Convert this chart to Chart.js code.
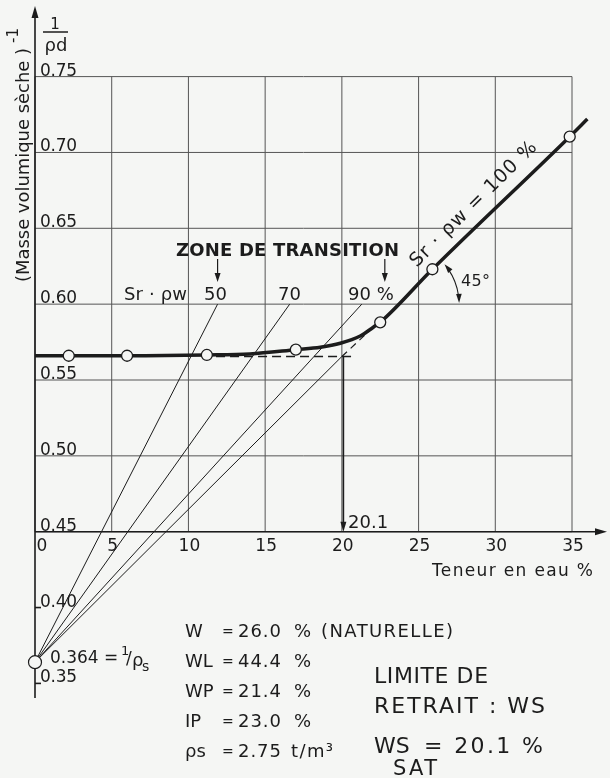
<!DOCTYPE html>
<html>
<head>
<meta charset="utf-8">
<script src="https://cdn.jsdelivr.net/npm/chart.js@4.4.0/dist/chart.umd.min.js"></script>
<style>
  html, body { margin: 0; padding: 0; background: #f5f6f4; }
  canvas { display: block; }
</style>
</head>
<body>
<canvas id="chart" width="610" height="778"></canvas>
<script>
// water content w (%) and 1/rho_d
const curveW = [0, 2.2, 6.0, 11.2, 14.0, 17.0, 18.6, 19.9, 21.2, 22.05, 22.5, 25.9, 34.85, 36.0];
const curveV = [0.566, 0.566, 0.566, 0.5665, 0.5672, 0.570, 0.5716, 0.5742, 0.579, 0.5848, 0.588, 0.623, 0.7104, 0.722];
const pointW = [2.2, 6.0, 11.2, 17.0, 22.5, 25.9, 34.85];
const pointV = [0.566, 0.566, 0.5665, 0.570, 0.588, 0.623, 0.7104];

const invRhoS = 0.364;
const srLabels = ['50', '70', '90 %'];
const srTopW = [11.9, 16.6, 21.3];
const srTopV = 0.60;
const satW = [0, 20.0];
const satV = [0.364, 0.5655];
const satDashW = [20.0, 22.2];
const satDashV = [0.5655, 0.5862];
const shrinkW = [11.8, 20.6];
const shrinkV = 0.5655;
const wsSat = 20.1;

const xTicks = [0, 5, 10, 15, 20, 25, 30, 35];
const yTicks = [0.45, 0.50, 0.55, 0.60, 0.65, 0.70, 0.75];
const yLowTicks = [0.40, 0.35];

const paramNames = ['W', 'WL', 'WP', 'IP', 'ρs'];
const paramValues = ['26.0', '44.4', '21.4', '23.0', '2.75'];
const paramUnits = ['%', '%', '%', '%', 't/m³'];

const INK = '#1c1c1c';
const BG = '#f5f6f4';
const FONT = '"DejaVu Sans", sans-serif';

const pts = (ws, vs) => ws.map((w, i) => ({ x: w, y: Array.isArray(vs) ? vs[i] : vs }));
const thin = (data, extra) => Object.assign({
  data, showLine: true, borderColor: INK, borderWidth: 1, pointRadius: 0, order: 3
}, extra || {});

// text stretched to a width
function fitText(ctx, str, x, y, width, font) {
  ctx.font = font;
  ctx.letterSpacing = '0px';
  if (width) {
    const w = ctx.measureText(str).width;
    const sp = (width - w) / Math.max(1, str.length - 1);
    ctx.letterSpacing = sp.toFixed(2) + 'px';
  }
  ctx.fillText(str, x, y);
  ctx.letterSpacing = '0px';
}

function arrowHead(ctx, x, y, ang, len, half) {
  ctx.beginPath();
  ctx.moveTo(x, y);
  ctx.lineTo(x - len * Math.cos(ang) + half * Math.sin(ang), y - len * Math.sin(ang) - half * Math.cos(ang));
  ctx.lineTo(x - len * Math.cos(ang) - half * Math.sin(ang), y - len * Math.sin(ang) + half * Math.cos(ang));
  ctx.closePath();
  ctx.fill();
}

function seg(ctx, x1, y1, x2, y2) {
  ctx.beginPath();
  ctx.moveTo(x1, y1);
  ctx.lineTo(x2, y2);
  ctx.stroke();
}

const sketch = {
  id: 'sketch',
  beforeDatasetsDraw(chart) {
    const ctx = chart.ctx;
    const X = v => chart.scales.x.getPixelForValue(v);
    const Y = v => chart.scales.y.getPixelForValue(v);
    ctx.save();
    ctx.fillStyle = BG;
    ctx.fillRect(0, 0, chart.width, chart.height);
    // grid
    ctx.strokeStyle = '#555';
    ctx.lineWidth = 1;
    xTicks.forEach(t => seg(ctx, X(t), Y(0.45), X(t), Y(0.75)));
    yTicks.forEach(t => seg(ctx, X(0), Y(t), X(35), Y(t)));
    // axes
    ctx.strokeStyle = INK;
    ctx.fillStyle = INK;
    ctx.lineWidth = 1.6;
    seg(ctx, X(0), Y(0.3403), X(0), Y(0.7966) + 6);
    arrowHead(ctx, X(0), Y(0.7966), -Math.PI / 2, 12, 3.5);
    seg(ctx, X(0), Y(0.45), X(37.28) - 6, Y(0.45));
    arrowHead(ctx, X(37.28), Y(0.45), 0, 12, 3.5);
    yLowTicks.forEach(t => seg(ctx, X(0), Y(t), X(0) + 6, Y(t)));
    ctx.restore();
  },
  afterDatasetsDraw(chart) {
    const ctx = chart.ctx;
    const X = v => chart.scales.x.getPixelForValue(v);
    const Y = v => chart.scales.y.getPixelForValue(v);
    ctx.save();
    ctx.fillStyle = INK;
    ctx.strokeStyle = INK;

    // tick labels
    ctx.textAlign = 'left';
    ctx.textBaseline = 'alphabetic';
    yTicks.concat(yLowTicks).forEach(t => fitText(ctx, t.toFixed(2), X(0) + 5, Y(t) - 1, 37, '17px ' + FONT));
    ctx.textAlign = 'center';
    xTicks.forEach(t => fitText(ctx, String(t), X(t) + (t === 0 ? 7 : 1), 551, 0, '17px ' + FONT));
    ctx.textAlign = 'left';
    fitText(ctx, 'Teneur en eau %', 432, 576, 161, '17px ' + FONT);

    // y title
    ctx.save();
    ctx.translate(29, 282);
    ctx.rotate(-Math.PI / 2);
    fitText(ctx, '(Masse volumique sèche )', 0, 0, 234, '18px ' + FONT);
    fitText(ctx, '-1', 239, -11, 0, '15px ' + FONT);
    ctx.restore();

    // 1 / rho_d
    ctx.textAlign = 'center';
    fitText(ctx, '1', 55, 29, 0, '15px ' + FONT);
    ctx.lineWidth = 1.5;
    seg(ctx, 43, 32, 68, 32);
    fitText(ctx, 'ρd', 56, 51, 0, '18px ' + FONT);

    // ws arrow
    arrowHead(ctx, X(wsSat), Y(0.45), Math.PI / 2, 10, 3);
    ctx.textAlign = 'left';
    fitText(ctx, String(wsSat), 348, 528, 0, '18px ' + FONT);

    // transition zone
    fitText(ctx, 'ZONE DE TRANSITION', 176, 256, 223, 'bold 18px ' + FONT);
    ctx.lineWidth = 1.2;
    [11.9, 22.8].forEach(w => {
      seg(ctx, X(w), 259, X(w), 274);
      arrowHead(ctx, X(w), 282, Math.PI / 2, 9, 3);
    });
    fitText(ctx, 'Sr · ρw', 124, 300, 63, '18px ' + FONT);
    const lblX = [204, 278, 348];
    srLabels.forEach((s, i) => fitText(ctx, s, lblX[i], 300, 0, '18px ' + FONT));

    // saturation line label
    const ang = Math.atan2(Y(0.722) - Y(invRhoS), X(35.8) - X(0));
    const w0 = 29.4, v0 = invRhoS + (0.722 - invRhoS) * w0 / 35.8;
    const px = X(w0) + 17 * Math.sin(ang), py = Y(v0) - 17 * Math.cos(ang);
    ctx.save();
    ctx.translate(px, py);
    ctx.rotate(ang);
    ctx.textAlign = 'center';
    ctx.textBaseline = 'middle';
    fitText(ctx, 'Sr · ρw = 100 %', 0, 0, 170, '19px ' + FONT);
    ctx.restore();

    // 45 degree arc
    const cx = X(23.6), cy = Y(0.60), r = 62;
    const a1 = -0.70, a2 = -0.02;
    ctx.lineWidth = 1.1;
    ctx.beginPath();
    ctx.arc(cx, cy, r, a1 + 0.1, a2 - 0.12);
    ctx.stroke();
    arrowHead(ctx, cx + r * Math.cos(a1), cy + r * Math.sin(a1), a1 - Math.PI / 2, 9, 2.8);
    arrowHead(ctx, cx + r * Math.cos(a2), cy + r * Math.sin(a2), a2 + Math.PI / 2, 9, 2.8);
    ctx.textAlign = 'left';
    ctx.textBaseline = 'alphabetic';
    fitText(ctx, '45°', 461, 286, 29, '16px ' + FONT);

    // 1 / rho_s
    fitText(ctx, '0.364 =', 50, 663, 0, '17px ' + FONT);
    fitText(ctx, '1', 121, 655, 0, '13px ' + FONT);
    fitText(ctx, '/', 126, 664, 0, '17px ' + FONT);
    fitText(ctx, 'ρ', 132, 666, 0, '18px ' + FONT);
    fitText(ctx, 's', 142, 671, 0, '14px ' + FONT);

    // soil parameters
    const rowY = [637, 667, 697, 727, 757];
    paramNames.forEach((n, i) => {
      const f = '18px ' + FONT;
      fitText(ctx, n, 185, rowY[i], 0, f);
      fitText(ctx, '=', 222, rowY[i] - 1, 0, '14px ' + FONT);
      fitText(ctx, paramValues[i], 238, rowY[i], 43, f);
      fitText(ctx, paramUnits[i], i === 4 ? 291 : 294, rowY[i], i === 4 ? 42 : 0, f);
    });
    fitText(ctx, '(NATURELLE)', 321, 637, 132, '18px ' + FONT);

    fitText(ctx, 'LIMITE DE', 374, 683, 114, '22px ' + FONT);
    fitText(ctx, 'RETRAIT : WS', 374, 713, 171, '22px ' + FONT);
    fitText(ctx, 'WS', 374, 753, 0, '22px ' + FONT);
    fitText(ctx, 'SAT', 393, 775, 44, '21px ' + FONT);
    fitText(ctx, '= ' + wsSat + ' %', 424, 753, 119, '22px ' + FONT);
    ctx.restore();
  }
};

new Chart(document.getElementById('chart'), {
  type: 'scatter',
  data: {
    datasets: [
      { data: pts(pointW, pointV), pointRadius: 5.5, pointBackgroundColor: BG,
        pointBorderColor: INK, pointBorderWidth: 1.3, order: 0 },
      { data: [{ x: 0, y: invRhoS }], pointRadius: 6.5, pointBackgroundColor: BG,
        pointBorderColor: INK, pointBorderWidth: 1.2, order: 0 },
      { data: pts(curveW, curveV), showLine: true, borderColor: INK, borderWidth: 3.5,
        pointRadius: 0, cubicInterpolationMode: 'monotone', order: 2 },
      ...srTopW.map(w => thin([{ x: 0, y: invRhoS }, { x: w, y: srTopV }])),
      thin(pts(satW, satV)),
      thin(pts(satDashW, satDashV), { borderDash: [7, 5], borderWidth: 1.2 }),
      thin(pts(shrinkW, shrinkV), { borderDash: [9, 5], borderWidth: 1.3 }),
      thin([{ x: wsSat, y: shrinkV }, { x: wsSat, y: 0.455 }], { borderWidth: 1.6 })
    ]
  },
  options: {
    responsive: false,
    animation: false,
    events: [],
    layout: { padding: 0, autoPadding: false },
    plugins: { legend: { display: false }, tooltip: { enabled: false } },
    scales: {
      x: { type: 'linear', display: false, min: -2.281, max: 37.476 },
      y: { type: 'linear', display: false, min: 0.28764, max: 0.8005 }
    }
  },
  plugins: [sketch]
});
</script>
</body>
</html>
